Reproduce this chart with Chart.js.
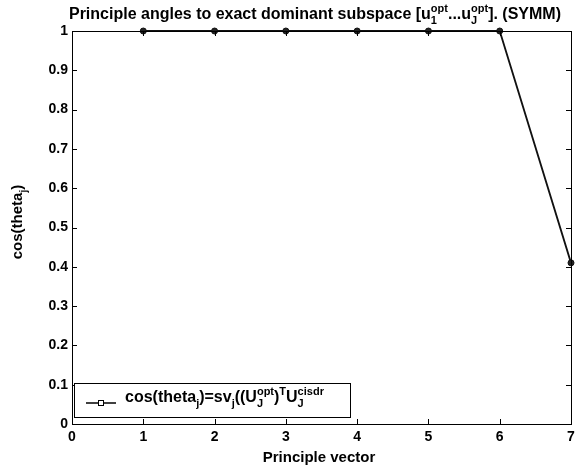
<!DOCTYPE html>
<html><head><meta charset="utf-8">
<script src="https://cdn.jsdelivr.net/npm/chart.js@4/dist/chart.umd.min.js"></script>
<style>html,body{margin:0;padding:0;background:#fff;}</style>
</head><body>
<canvas id="c" width="576" height="469" style="width:576px;height:469px;display:block"></canvas>
<script>
// ---- data ----
const vectorIndex = [1, 2, 3, 4, 5, 6, 7];
const cosTheta = [1, 1, 1, 1, 1, 1, 0.41];
const xTicks = [0, 1, 2, 3, 4, 5, 6, 7];
const yTicks = [0, 0.1, 0.2, 0.3, 0.4, 0.5, 0.6, 0.7, 0.8, 0.9, 1];

const FONT = "'Liberation Sans', Arial, Helvetica, sans-serif";

function drawRich(ctx, parts, x, y, size, measureOnly) {
  let cx = x;
  const small = Math.round(size * 0.66);
  for (const p of parts) {
    if (p.stack) {
      ctx.font = `bold ${small}px ${FONT}`;
      const w1 = ctx.measureText(p.sup).width, w2 = ctx.measureText(p.sub).width;
      if (!measureOnly) {
        ctx.fillText(p.sup, cx, y - size * 0.45);
        ctx.fillText(p.sub, cx, y + size * 0.32);
      }
      cx += Math.max(w1, w2);
    } else {
      const isSmall = p.s !== 'n';
      ctx.font = `bold ${isSmall ? small : size}px ${FONT}`;
      const dy = p.s === 'sub' ? size * 0.32 : p.s === 'sup' ? -size * 0.45 : 0;
      if (!measureOnly) ctx.fillText(p.t, cx, y + dy);
      cx += ctx.measureText(p.t).width;
    }
  }
  return cx - x;
}

const titleParts = [
  {t: 'Principle angles to exact dominant subspace [u', s: 'n'},
  {stack: true, sub: '1', sup: 'opt'},
  {t: '...u', s: 'n'},
  {stack: true, sub: 'J', sup: 'opt'},
  {t: ']. (SYMM)', s: 'n'}
];
const ylabelParts = [
  {t: 'cos(theta', s: 'n'}, {t: 'j', s: 'sub'}, {t: ')', s: 'n'}
];
const legendParts = [
  {t: 'cos(theta', s: 'n'}, {t: 'j', s: 'sub'}, {t: ')=sv', s: 'n'}, {t: 'j', s: 'sub'},
  {t: '((U', s: 'n'}, {stack: true, sub: 'J', sup: 'opt'}, {t: ')', s: 'n'}, {t: 'T', s: 'sup'},
  {t: 'U', s: 'n'}, {stack: true, sub: 'J', sup: 'cisdr'}
];

const decor = {
  id: 'decor',
  afterDraw(chart) {
    const ctx = chart.ctx;
    const a = chart.chartArea;
    const xs = chart.scales.x, ys = chart.scales.y;
    ctx.save();
    ctx.strokeStyle = '#000';
    ctx.lineWidth = 1;
    ctx.strokeRect(Math.round(a.left) + 0.5, Math.round(a.top) + 0.5,
                   Math.round(a.right - a.left), Math.round(a.bottom - a.top));
    ctx.beginPath();
    const tl = 5;
    for (const v of xTicks) {
      const px = Math.round(xs.getPixelForValue(v)) + 0.5;
      ctx.moveTo(px, a.bottom); ctx.lineTo(px, a.bottom - tl);
      ctx.moveTo(px, a.top); ctx.lineTo(px, a.top + tl);
    }
    for (const v of yTicks) {
      const py = Math.round(ys.getPixelForValue(v)) + 0.5;
      ctx.moveTo(a.left, py); ctx.lineTo(a.left + tl, py);
      ctx.moveTo(a.right, py); ctx.lineTo(a.right - tl, py);
    }
    ctx.stroke();

    ctx.fillStyle = '#000';
    ctx.textBaseline = 'alphabetic';
    ctx.textAlign = 'left';
    // title
    const tw = drawRich(ctx, titleParts, 0, 0, 16, true);
    drawRich(ctx, titleParts, 315 - tw / 2, 19, 16, false);
    // x label
    ctx.font = `bold 15px ${FONT}`;
    ctx.textAlign = 'center';
    ctx.fillText('Principle vector', 319, 462);
    ctx.textAlign = 'left';
    // y label
    ctx.save();
    ctx.translate(22, 222);
    ctx.rotate(-Math.PI / 2);
    const yw = drawRich(ctx, ylabelParts, 0, 0, 15, true);
    drawRich(ctx, ylabelParts, -yw / 2, 0, 15, false);
    ctx.restore();

    // legend
    const lx = 74.5, ly = 383.5, lw = 276, lh = 34;
    ctx.fillStyle = '#fff';
    ctx.fillRect(lx, ly, lw, lh);
    ctx.strokeRect(lx, ly, lw, lh);
    ctx.beginPath();
    ctx.lineWidth = 1.5;
    ctx.moveTo(86, 403); ctx.lineTo(116, 403);
    ctx.stroke();
    ctx.lineWidth = 1;
    ctx.fillStyle = '#fff';
    ctx.fillRect(98.5, 400.5, 5, 5);
    ctx.strokeRect(98.5, 400.5, 5, 5);
    ctx.fillStyle = '#000';
    drawRich(ctx, legendParts, 125, 402, 16, false);
    ctx.restore();
  }
};

new Chart(document.getElementById('c'), {
  type: 'scatter',
  data: {
    datasets: [{
      label: 'cos(theta_j)=sv_j((U_J^opt)^T U_J^cisdr',
      data: vectorIndex.map((v, i) => ({x: v, y: cosTheta[i]})),
      showLine: true,
      clip: false,
      borderColor: '#111',
      borderWidth: 1.8,
      backgroundColor: '#222',
      pointRadius: 3,
      pointBorderWidth: 1,
      pointBorderColor: '#111'
    }]
  },
  options: {
    responsive: false,
    animation: false,
    devicePixelRatio: 1,
    layout: {padding: {left: 0, top: 31, right: 3, bottom: 0}},
    plugins: {legend: {display: false}, title: {display: false}, tooltip: {enabled: false}},
    scales: {
      x: {
        type: 'linear', min: 0, max: 7,
        afterBuildTicks(s) { s.ticks = xTicks.map(v => ({value: v})); },
        afterFit(s) { s.height = 45; s.paddingLeft = 0; s.paddingRight = 0; },
        grid: {display: false, drawTicks: false},
        border: {display: false},
        ticks: {padding: 5, color: '#000', font: {family: FONT, size: 14, weight: 'bold'}, maxRotation: 0}
      },
      y: {
        type: 'linear', min: 0, max: 1,
        afterBuildTicks(s) { s.ticks = yTicks.map(v => ({value: v})); },
        afterFit(s) { s.width = 72; s.paddingTop = 0; s.paddingBottom = 0; },
        grid: {display: false, drawTicks: false},
        border: {display: false},
        ticks: {padding: 4, color: '#000', font: {family: FONT, size: 14, weight: 'bold'},
                callback: v => String(Math.round(v * 10) / 10)}
      }
    }
  },
  plugins: [decor]
});
</script>
</body></html>
